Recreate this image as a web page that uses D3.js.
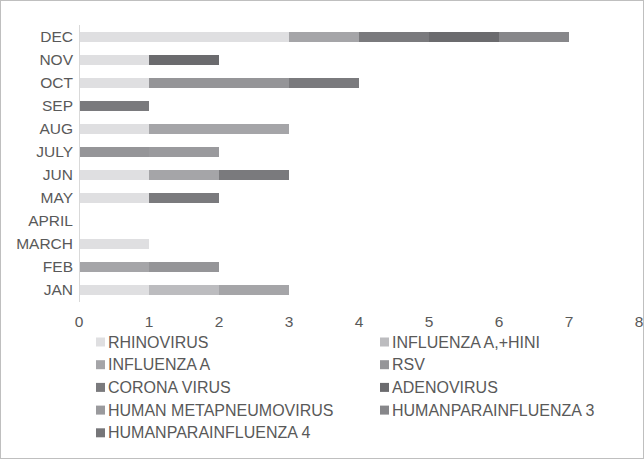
<!DOCTYPE html>
<html><head><meta charset="utf-8">
<script src="https://cdn.jsdelivr.net/npm/d3@7"></script>
<style>body{margin:0;background:#fff}svg{display:block}text{font-family:"Liberation Sans",Arial,sans-serif}</style>
</head><body>
<svg id="c" width="644" height="459"></svg>
<script>
const months = ["JAN","FEB","MARCH","APRIL","MAY","JUN","JULY","AUG","SEP","OCT","NOV","DEC"];
const seriesNames = ["RHINOVIRUS","INFLUENZA A,+HINI","INFLUENZA A","RSV","CORONA VIRUS","ADENOVIRUS","HUMAN METAPNEUMOVIRUS","HUMANPARAINFLUENZA 3","HUMANPARAINFLUENZA 4"];
const seriesColors = ["#dfdfe1","#bcbcbf","#a5a5a8","#959598","#7a7a7d","#6b6b6e","#9a9a9d","#87878a","#767679"];
const rhinovirus    = [1,0,1,0,1,1,0,1,0,1,1,3];
const influenzaAH1  = [1,0,0,0,0,0,0,0,0,0,0,0];
const influenzaA    = [1,1,0,0,0,1,0,2,0,0,0,1];
const rsv           = [0,1,0,0,0,0,1,0,0,2,0,0];
const coronaVirus   = [0,0,0,0,1,1,0,0,1,1,0,1];
const adenovirus    = [0,0,0,0,0,0,0,0,0,0,1,1];
const metapneumo    = [0,0,0,0,0,0,1,0,0,0,0,0];
const parainfl3     = [0,0,0,0,0,0,0,0,0,0,0,1];
const parainfl4     = [0,0,0,0,0,0,0,0,0,0,0,0];
const xTicks = [0,1,2,3,4,5,6,7,8];

const seriesValues = [rhinovirus,influenzaAH1,influenzaA,rsv,coronaVirus,adenovirus,metapneumo,parainfl3,parainfl4];
const table = months.map((m,i)=>{const o={month:m}; seriesNames.forEach((s,j)=>o[s]=seriesValues[j][i]); return o;});

const svg = d3.select("#c");
svg.append("rect").attr("x",0.5).attr("y",0.5).attr("width",643).attr("height",458)
  .attr("fill","#fff").attr("stroke","#bfbfbf");

const x = d3.scaleLinear().domain([0,8]).range([79,639]);
const y = d3.scaleBand().domain(months.slice().reverse()).range([25.5,301.5]).paddingInner(0.565).paddingOuter(0.2825);

const stack = d3.stack().keys(seriesNames)(table);
svg.append("g").selectAll("g").data(stack).join("g")
  .attr("fill",(d,i)=>seriesColors[i])
  .selectAll("rect").data(d=>d).join("rect")
  .attr("x",d=>x(d[0])).attr("width",d=>x(d[1])-x(d[0]))
  .attr("y",d=>y(d.data.month)).attr("height",y.bandwidth())
  .attr("shape-rendering","crispEdges");

svg.append("line").attr("x1",79.5).attr("x2",79.5).attr("y1",25).attr("y2",302).attr("stroke","#d9d9d9");

const FS = 15.5;
svg.append("g").selectAll("text").data(months).join("text")
  .attr("x",73).attr("y",d=>y(d)+y.bandwidth()/2).attr("dy","0.35em")
  .attr("text-anchor","end").attr("font-size",FS).attr("fill","#595959").text(d=>d);

svg.append("g").selectAll("text").data(xTicks).join("text")
  .attr("x",d=>x(d)).attr("y",322).attr("dy","0.35em")
  .attr("text-anchor","middle").attr("font-size",FS).attr("fill","#595959").text(d=>d);

const leg = svg.append("g").selectAll("g").data(seriesNames).join("g")
  .attr("transform",(d,i)=>`translate(${i%2===0?96:380},${342+Math.floor(i/2)*22.7})`);
leg.append("rect").attr("x",0).attr("y",-4.5).attr("width",9).attr("height",9)
  .attr("fill",(d,i)=>seriesColors[i]);
leg.append("text").attr("x",12).attr("y",0).attr("dy","0.35em")
  .attr("font-size",16).attr("fill","#595959").text(d=>d);
</script>
</body></html>
